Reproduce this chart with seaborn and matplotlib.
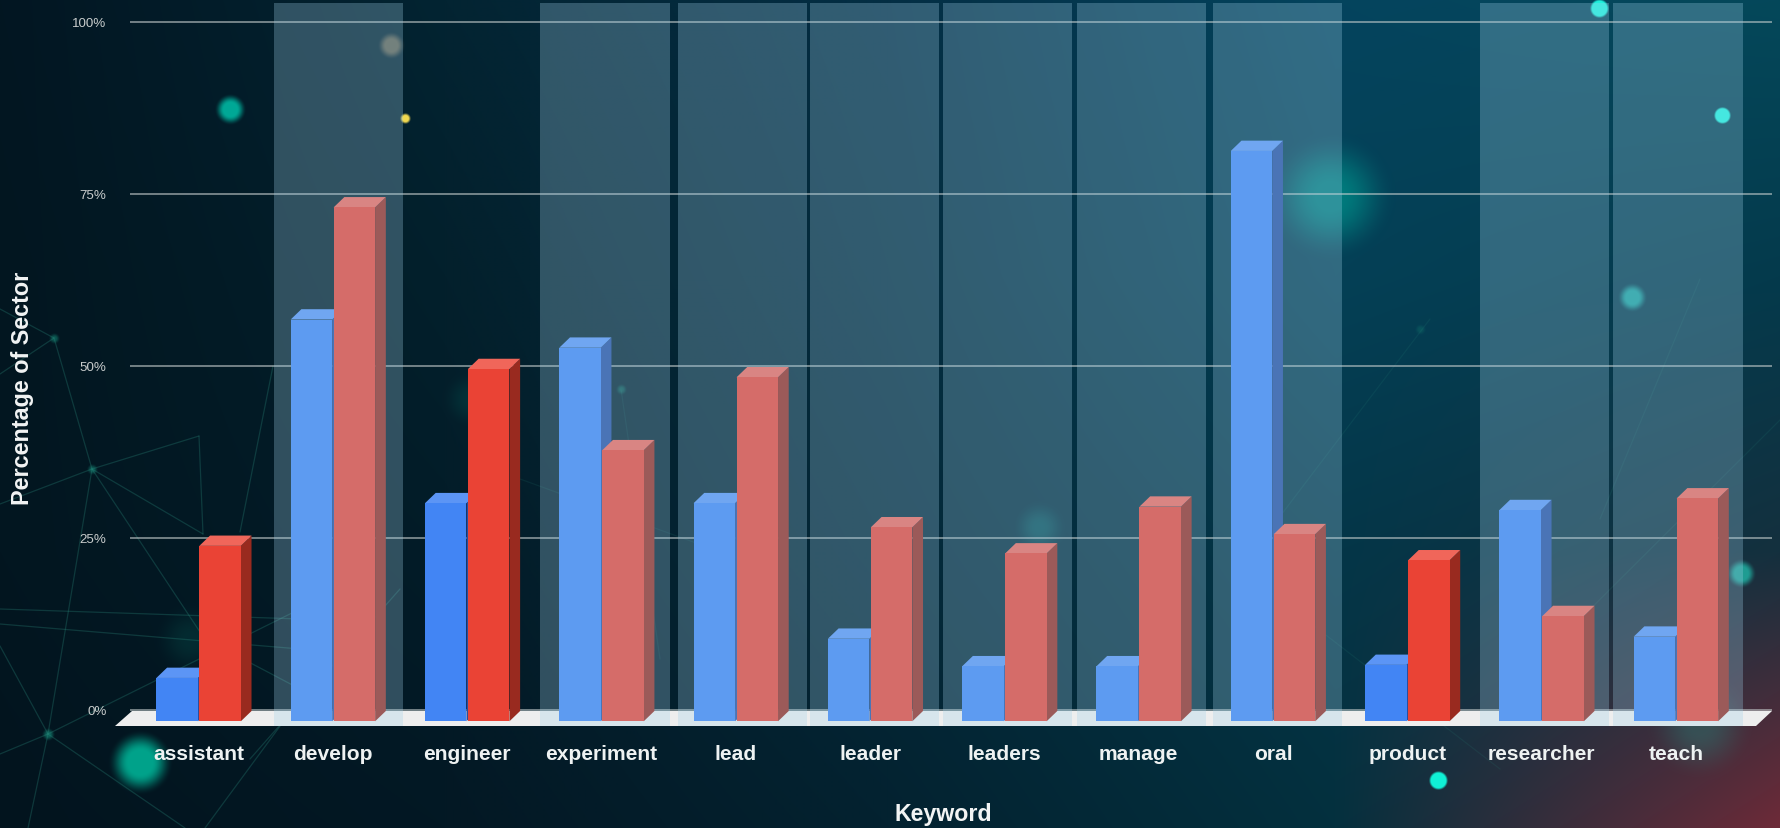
import numpy as np
import pandas as pd
import matplotlib
matplotlib.use("Agg")
import matplotlib.pyplot as plt
from matplotlib.patches import Polygon
from matplotlib.colors import to_rgb
import seaborn as sns

keywords = ["assistant", "develop", "engineer", "experiment", "lead", "leader",
            "leaders", "manage", "oral", "product", "researcher", "teach"]
series_a = [6.3, 58.4, 31.7, 54.3, 31.7, 12.0, 8.0, 8.0, 82.9, 8.2, 30.7, 12.3]
series_b = [25.5, 74.7, 51.2, 39.4, 50.0, 28.2, 24.4, 31.2, 27.2, 23.4, 15.3, 32.4]
highlighted = ["develop", "experiment", "lead", "leader", "leaders", "manage",
               "oral", "researcher", "teach"]
y_ticks = [0, 25, 50, 75, 100]

W, H = 1781, 829
sns.set_theme(style="white")
plt.rcParams["font.family"] = ["Liberation Sans", "DejaVu Sans"]

# ---------- background picture ----------
bg_grid = np.array([
    [[2, 22, 34], [3, 36, 50], [3, 46, 68], [4, 68, 94], [4, 72, 90]],
    [[2, 22, 32], [3, 32, 44], [3, 44, 62], [4, 64, 86], [4, 58, 76]],
    [[2, 22, 32], [3, 28, 40], [3, 40, 56], [4, 54, 72], [20, 48, 62]],
    [[2, 20, 30], [3, 24, 36], [3, 34, 48], [4, 48, 62], [110, 42, 56]],
], dtype=float)
xx = np.linspace(0, bg_grid.shape[1] - 1, W)
yy = np.linspace(0, bg_grid.shape[0] - 1, H)
X, Y = np.meshgrid(xx, yy)
x0 = np.clip(X.astype(int), 0, bg_grid.shape[1] - 2)
y0 = np.clip(Y.astype(int), 0, bg_grid.shape[0] - 2)
fx, fy = (X - x0)[..., None], (Y - y0)[..., None]
img = (bg_grid[y0, x0] * (1 - fx) * (1 - fy) + bg_grid[y0, x0 + 1] * fx * (1 - fy)
       + bg_grid[y0 + 1, x0] * (1 - fx) * fy + bg_grid[y0 + 1, x0 + 1] * fx * fy) / 255

# x, y, radius, colour, strength, flat core fraction
glows = [
    (230, 110, 16, "#00b09c", 0.95, 0.4), (391, 46, 14, "#8a7c60", 0.7, 0.4),
    (405, 119, 6, "#f0d850", 1.0, 0.45), (1599, 9, 10, "#20f0dc", 1.0, 0.7),
    (1722, 116, 9, "#20f0dc", 1.0, 0.7), (1632, 298, 15, "#20b8b0", 0.8, 0.4),
    (1741, 574, 15, "#20b8a8", 0.8, 0.4), (1438, 781, 10, "#10f0d5", 1.0, 0.7),
    (140, 763, 33, "#00aa90", 0.95, 0.35), (1330, 197, 66, "#008080", 0.9, 0.15),
    (1039, 528, 28, "#108a88", 0.35, 0.1), (1700, 727, 55, "#20a090", 0.3, 0.1),
    (190, 640, 38, "#087868", 0.2, 0.1), (470, 400, 30, "#087868", 0.2, 0.1),
    (54, 339, 6, "#128070", 0.6, 0.2), (92, 470, 6, "#128070", 0.6, 0.2),
    (48, 735, 7, "#128070", 0.7, 0.2), (621, 390, 6, "#128070", 0.5, 0.2),
    (1420, 330, 6, "#128070", 0.3, 0.2),
]
PX, PY = np.meshgrid(np.arange(W), np.arange(H))
for gx, gy, gr, gc, ga, core in glows:
    d = np.hypot(PX - gx, PY - gy) / gr
    t = np.clip((1 - d) / (1 - core), 0, 1)
    a = (ga * t * t * (3 - 2 * t))[..., None]
    img = img * (1 - a) + np.array(to_rgb(gc)) * a

fig = plt.figure(figsize=(W / 100, H / 100), dpi=100)
ax_bg = fig.add_axes([0, 0, 1, 1], zorder=0)
ax_bg.imshow(img, extent=(0, W, H, 0), aspect="auto", interpolation="bilinear")
near_lines = [
    ((92, 470), (199, 437)), ((199, 437), (203, 535)), ((92, 470), (203, 535)),
    ((92, 470), (0, 505)), ((92, 470), (48, 735)), ((92, 470), (200, 633)),
    ((54, 339), (92, 470)), ((54, 339), (0, 310)), ((54, 339), (0, 375)),
    ((0, 610), (300, 620)), ((0, 625), (300, 650)), ((48, 735), (300, 610)),
    ((48, 735), (0, 647)), ((48, 735), (0, 755)), ((48, 735), (185, 829)),
    ((48, 735), (28, 829)), ((273, 367), (240, 533)), ((205, 829), (300, 700)),
    ((205, 640), (300, 690)), ((250, 760), (400, 590)),
]
far_lines = [
    ((621, 390), (660, 660)), ((520, 480), (740, 560)), ((1430, 320), (1240, 570)),
    ((1240, 570), (1500, 770)), ((1500, 700), (1781, 420)), ((1700, 280), (1600, 520)),
]
for (a, b) in near_lines:
    ax_bg.plot([a[0], b[0]], [a[1], b[1]], color="#2a8a7c", lw=0.9, alpha=0.3)
for (a, b) in far_lines:
    ax_bg.plot([a[0], b[0]], [a[1], b[1]], color="#2a8a7c", lw=0.9, alpha=0.13)
ax_bg.set_xlim(0, W)
ax_bg.set_ylim(H, 0)
ax_bg.axis("off")


def rect(left, top, right, bottom):
    return [left / W, 1 - bottom / H, (right - left) / W, (bottom - top) / H]


# ---------- back plane: grid lines and percent labels ----------
ax_back = fig.add_axes(rect(130, 4, 1772, 730), zorder=1)
ax_back.patch.set_alpha(0)
ax_back.set_ylim((711 - 730) / 6.88, (711 - 4) / 6.88)
ax_back.set_xlim(0, 1)
ax_back.set_yticks(y_ticks)
ax_back.set_yticklabels([f"{v}%" for v in y_ticks], fontsize=9.6, color="#c8cccc")
ax_back.set_xticks([])
ax_back.tick_params(axis="y", length=0, pad=17)
ax_back.yaxis.grid(True, color="#c4cccc", lw=1.2, alpha=0.68)
sns.despine(ax=ax_back, left=True, bottom=True)

# ---------- front plane: bars ----------
ax = fig.add_axes(rect(115, 4, 1772, 730), zorder=2)
ax.patch.set_alpha(0)
df = pd.DataFrame({
    "Keyword": keywords * 2,
    "value": series_a + series_b,
    "group": ["a"] * len(keywords) + ["b"] * len(keywords),
})
sns.barplot(data=df, x="Keyword", y="value", hue="group", order=keywords,
            palette={"a": "#4285f4", "b": "#ea4335"}, width=0.64, gap=0.035,
            saturation=1, legend=False, ax=ax, zorder=5, linewidth=0)
step = 134.3
ax.set_xlim((115 - 198.6) / step, (1772 - 198.6) / step)
ax.set_ylim((722.3 - 730) / 6.88, (722.3 - 4) / 6.88)

ddx, ddy = 10.7 / step, 10.3 / 6.88
shade = {"a": ("#5c95f5", "#274fa2"), "b": ("#f0665a", "#992a1f")}
bars = list(ax.patches)
n = len(keywords)
for k, bar in enumerate(bars):
    g = "a" if k < n else "b"
    l, r, h = bar.get_x(), bar.get_x() + bar.get_width(), bar.get_height()
    ax.add_patch(Polygon([(r, 0), (r + ddx, ddy), (r + ddx, h + ddy), (r, h)],
                         closed=True, fc=shade[g][1], ec="none", zorder=3 + k * 0.001))
    ax.add_patch(Polygon([(l, h), (l + ddx, h + ddy), (r + ddx, h + ddy), (r, h)],
                         closed=True, fc=shade[g][0], ec="none", zorder=3 + k * 0.001))

# floor slab
fy_front, fy_back = (722.3 - 727) / 6.88, (722.3 - 712) / 6.88
fl, fr = (115 - 198.6) / step, (1756 - 198.6) / step
ax.add_patch(Polygon([(fl, fy_front), (fl + 17 / step, fy_back), (fr + 16 / step, fy_back), (fr, fy_front)],
                     closed=True, fc="#eeeeee", ec="none", zorder=2))

# translucent column bands sit above the bars
band_left_px = [274, 540.5, 678, 810, 943, 1077, 1213, 1480, 1613.5]
band_width_px = 129.3
ylo, yhi = ax.get_ylim()
for kw, left_px in zip(highlighted, band_left_px):
    c0 = (left_px - 198.6) / step
    ax.axvspan(c0, c0 + band_width_px / step, ymin=(fy_front - ylo) / (yhi - ylo),
               ymax=1, color="#a2d2ea", alpha=0.29, lw=0, zorder=6)

ax.set_yticks([])
ax.set_ylabel("Percentage of Sector", fontsize=16.8, fontweight="bold", color="#f2f4f4")
ax.yaxis.set_label_coords((34 - 115) / 1657, (730 - 388) / 726)
ax.set_xlabel("Keyword", fontsize=16.7, fontweight="bold", color="#f2f4f4")
ax.xaxis.set_label_coords(0.5, (730 - 815) / 726)
ax.xaxis.label.set_verticalalignment("center")
ax.tick_params(axis="x", length=0, pad=11, labelsize=15.1, labelcolor="#eef2f2")
for t in ax.get_xticklabels():
    t.set_fontweight("bold")
sns.despine(ax=ax, left=True, bottom=True)

fig.savefig("out.png", dpi=100)
